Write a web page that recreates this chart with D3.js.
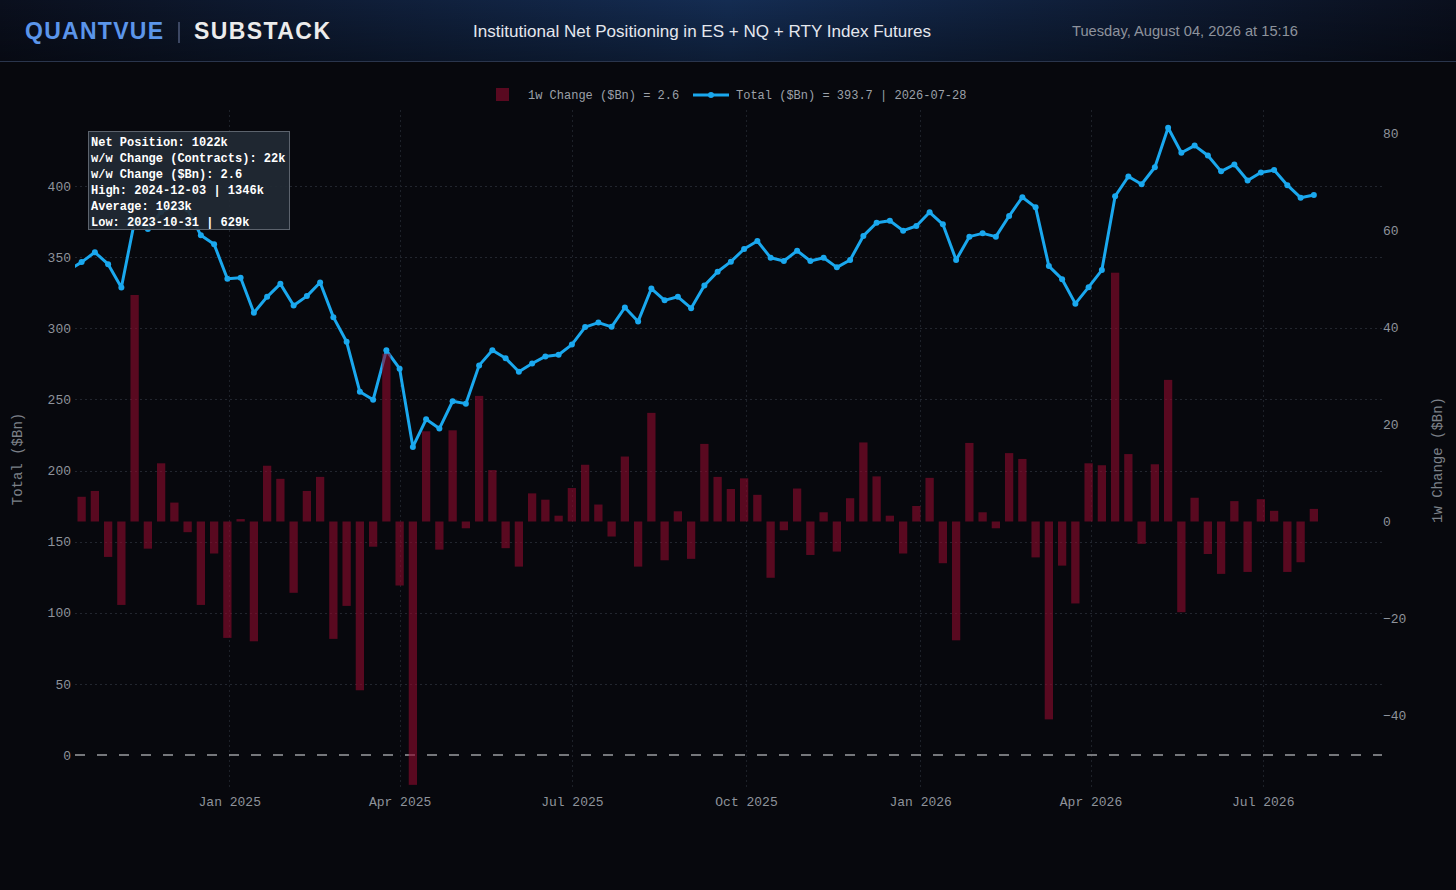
<!DOCTYPE html>
<html><head><meta charset="utf-8">
<script src="https://cdn.jsdelivr.net/npm/d3@7/dist/d3.min.js"></script>
<style>
html,body{margin:0;padding:0;background:#07080d;}
svg{display:block;}
</style></head><body>
<svg id="c" width="1456" height="890"></svg>
<script>
// ---------- DATA ----------
const dates = [
"2024-10-08","2024-10-15","2024-10-22","2024-10-29","2024-11-05","2024-11-12","2024-11-19","2024-11-26","2024-12-03","2024-12-10","2024-12-17","2024-12-24","2024-12-31",
"2025-01-07","2025-01-14","2025-01-21","2025-01-28","2025-02-04","2025-02-11","2025-02-18","2025-02-25","2025-03-04","2025-03-11","2025-03-18","2025-03-25",
"2025-04-01","2025-04-08","2025-04-15","2025-04-22","2025-04-29","2025-05-06","2025-05-13","2025-05-20","2025-05-27","2025-06-03","2025-06-10","2025-06-17","2025-06-24",
"2025-07-01","2025-07-08","2025-07-15","2025-07-22","2025-07-29","2025-08-05","2025-08-12","2025-08-19","2025-08-26","2025-09-02","2025-09-09","2025-09-16","2025-09-23","2025-09-30",
"2025-10-07","2025-10-14","2025-10-21","2025-10-28","2025-11-04","2025-11-11","2025-11-18","2025-11-25","2025-12-02","2025-12-09","2025-12-16","2025-12-23","2025-12-30",
"2026-01-06","2026-01-13","2026-01-20","2026-01-27","2026-02-03","2026-02-10","2026-02-17","2026-02-24","2026-03-03","2026-03-10","2026-03-17","2026-03-24","2026-03-31",
"2026-04-07","2026-04-14","2026-04-21","2026-04-28","2026-05-05","2026-05-12","2026-05-19","2026-05-26","2026-06-02","2026-06-09","2026-06-16","2026-06-23","2026-06-30",
"2026-07-07","2026-07-14","2026-07-21","2026-07-28"
];
const totalBn = [
340.7,346.5,353.4,345.0,328.7,375.4,369.8,381.8,385.7,383.5,365.3,359.0,334.8,
335.5,310.9,322.1,331.2,316.0,322.6,332.2,307.8,290.5,255.3,249.7,284.5,
271.6,216.6,236.0,229.5,248.7,247.0,273.9,284.5,278.9,269.4,275.2,280.2,281.4,
288.5,300.8,304.0,301.0,314.6,304.8,327.9,319.6,322.1,314.1,330.0,339.7,346.8,355.7,
361.3,349.6,347.3,354.5,347.3,349.6,342.8,348.0,364.9,374.2,375.6,368.6,371.9,
381.5,373.1,348.0,364.4,366.7,364.4,378.9,392.1,385.0,343.7,334.5,317.3,328.9,
340.9,392.8,406.7,401.2,413.2,440.9,423.4,428.4,421.4,410.3,415.1,403.9,409.5,
411.2,400.6,391.8,393.7
];
const changeBn = [
null,5.1,6.3,-7.3,-17.2,46.7,-5.6,12.0,3.9,-2.2,-17.2,-6.6,-24.0,
0.5,-24.7,11.5,8.8,-14.7,6.3,9.2,-24.2,-17.4,-34.8,-5.2,34.6,
-13.2,-54.3,18.6,-5.8,18.8,-1.4,25.9,10.6,-5.5,-9.3,5.8,4.5,1.2,
6.9,11.7,3.5,-3.1,13.4,-9.3,22.4,-8.0,2.1,-7.7,16.0,9.2,6.7,8.9,
5.5,-11.6,-1.8,6.8,-6.9,1.9,-6.2,4.8,16.3,9.3,1.2,-6.6,3.2,
9.0,-8.6,-24.5,16.2,1.9,-1.4,14.1,12.9,-7.4,-40.8,-9.1,-16.9,12.0,
11.6,51.3,13.9,-4.6,11.8,29.2,-18.7,4.9,-6.7,-10.8,4.2,-10.4,4.6,
2.2,-10.4,-8.4,2.6
];
const leftTicks = [0,50,100,150,200,250,300,350,400];
const rightTicks = [-40,-20,0,20,40,60,80];
const monthTicks = ["2025-01-01","2025-04-01","2025-07-01","2025-10-01","2026-01-01","2026-04-01","2026-07-01"];
const xDomain = ["2024-10-11T12:00","2026-09-02T00:00"];
const tooltipLines = [
"Net Position: 1022k",
"w/w Change (Contracts): 22k",
"w/w Change ($Bn): 2.6",
"High: 2024-12-03 | 1346k",
"Average: 1023k",
"Low: 2023-10-31 | 629k"
];
const headerTitle = "Institutional Net Positioning in ES + NQ + RTY Index Futures";
const headerDate = "Tuesday, August 04, 2026 at 15:16";
const legendBar = "1w Change ($Bn) = 2.6";
const legendLine = "Total ($Bn) = 393.7 | 2026-07-28";

// ---------- LAYOUT ----------
const P = {left:75, right:1382, top:110, bottom:790};
const BLUE = "#1aa8ee";
const BAR = "rgba(140,10,45,0.62)";
const MONO = "'Liberation Mono','Courier New',monospace";
const SANS = "'Liberation Sans',Arial,Helvetica,sans-serif";
const TICK = "#8e939b";

const parse = d3.timeParse("%Y-%m-%d");
const parseT = d3.timeParse("%Y-%m-%dT%H:%M");
const data = dates.map((d,i)=>({date:parse(d), total:totalBn[i], chg:changeBn[i]}));

const svg = d3.select("#c");
const defs = svg.append("defs");

// background
svg.append("rect").attr("width",1456).attr("height",890).attr("fill","#07080d");

// header
const hg = defs.append("linearGradient").attr("id","hg").attr("x1","0").attr("x2","1").attr("y1","0").attr("y2","0");
hg.append("stop").attr("offset","0%").attr("stop-color","#0a0f1d");
hg.append("stop").attr("offset","50%").attr("stop-color","#142c52");
hg.append("stop").attr("offset","100%").attr("stop-color","#0a0f1d");
const hv = defs.append("linearGradient").attr("id","hv").attr("x1","0").attr("x2","0").attr("y1","0").attr("y2","1");
hv.append("stop").attr("offset","0%").attr("stop-color","#000").attr("stop-opacity",0);
hv.append("stop").attr("offset","100%").attr("stop-color","#000").attr("stop-opacity",0.35);
svg.append("rect").attr("width",1456).attr("height",61).attr("fill","url(#hg)");
svg.append("rect").attr("width",1456).attr("height",61).attr("fill","url(#hv)");
svg.append("line").attr("x1",0).attr("x2",1456).attr("y1",61.5).attr("y2",61.5).attr("stroke","#2a354c").attr("stroke-width",1);

svg.append("text").attr("x",25).attr("y",39).text("QUANTVUE")
  .attr("font-family",SANS).attr("font-weight","bold").attr("font-size",23)
  .attr("fill","#5b95ea").attr("textLength",138).attr("lengthAdjust","spacing");
svg.append("line").attr("x1",179).attr("x2",179).attr("y1",22).attr("y2",43).attr("stroke","#3c4763").attr("stroke-width",2);
svg.append("text").attr("x",194).attr("y",39).text("SUBSTACK")
  .attr("font-family",SANS).attr("font-weight","bold").attr("font-size",23)
  .attr("fill","#ececec").attr("textLength",136).attr("lengthAdjust","spacing");
svg.append("text").attr("x",473).attr("y",37).text(headerTitle)
  .attr("font-family",SANS).attr("font-size",16.5).attr("fill","#e4e7ee")
  .attr("textLength",458).attr("lengthAdjust","spacingAndGlyphs");
svg.append("text").attr("x",1072).attr("y",36).text(headerDate)
  .attr("font-family",SANS).attr("font-size",14.5).attr("fill","#8e939d")
  .attr("textLength",226).attr("lengthAdjust","spacingAndGlyphs");

// scales
const x = d3.scaleTime().domain(xDomain.map(parseT)).range([P.left,P.right]);
const yL = d3.scaleLinear().domain([(755-P.bottom)/1.4225,(755-P.top)/1.4225]).range([P.bottom,P.top]);
const yR = d3.scaleLinear().domain([(521.5-P.bottom)/4.85,(521.5-P.top)/4.85]).range([P.bottom,P.top]);

// grid
const grid = svg.append("g");
grid.selectAll("line.h").data(leftTicks.filter(t=>t!==0)).join("line")
  .attr("x1",P.left).attr("x2",P.right).attr("y1",d=>Math.round(yL(d))+0.5).attr("y2",d=>Math.round(yL(d))+0.5)
  .attr("stroke","#22262f").attr("stroke-width",1).attr("stroke-dasharray","2,3");
grid.selectAll("line.v").data(monthTicks.map(parse)).join("line")
  .attr("x1",d=>Math.round(x(d))+0.5).attr("x2",d=>Math.round(x(d))+0.5).attr("y1",P.top).attr("y2",P.bottom)
  .attr("stroke","#1d2129").attr("stroke-width",1).attr("stroke-dasharray","2,3");

// zero dashed line
svg.append("line").attr("x1",P.left).attr("x2",P.right).attr("y1",yL(0)).attr("y2",yL(0))
  .attr("stroke","#9a9ca0").attr("stroke-width",1.6).attr("stroke-dasharray","10,12");

// clip
defs.append("clipPath").attr("id","plot").append("rect")
  .attr("x",P.left).attr("y",P.top-20).attr("width",P.right-P.left).attr("height",P.bottom-P.top+20);
const plot = svg.append("g").attr("clip-path","url(#plot)");

// line
const line = d3.line().x(d=>x(d.date)).y(d=>yL(d.total));
plot.append("path").datum(data).attr("d",line).attr("fill","none")
  .attr("stroke",BLUE).attr("stroke-width",3).attr("stroke-linejoin","round");
plot.selectAll("circle.pt").data(data).join("circle")
  .attr("cx",d=>x(d.date)).attr("cy",d=>yL(d.total)).attr("r",3).attr("fill",BLUE);

// bars (drawn on top, semi-transparent)
const bw = 8.3;
plot.selectAll("rect.bar").data(data.filter(d=>d.chg!==null)).join("rect")
  .attr("x",d=>x(d.date)-bw/2).attr("width",bw)
  .attr("y",d=>Math.min(yR(0),yR(d.chg))).attr("height",d=>Math.abs(yR(d.chg)-yR(0)))
  .attr("fill",BAR);

// axes
function styleAxis(g){
  g.select(".domain").remove();
  g.selectAll(".tick line").remove();
  g.selectAll("text").attr("font-family",MONO).attr("font-size",13).attr("fill",TICK);
}
svg.append("g").attr("transform",`translate(${P.left-1},0)`)
  .call(d3.axisLeft(yL).tickValues(leftTicks).tickSize(0).tickPadding(3).tickFormat(d3.format("d")))
  .call(styleAxis);
svg.append("g").attr("transform",`translate(${P.right},0)`)
  .call(d3.axisRight(yR).tickValues(rightTicks).tickSize(0).tickPadding(1).tickFormat(d=>d<0?"\u2212"+Math.abs(d):String(d)))
  .call(styleAxis);
svg.append("g").attr("transform",`translate(0,${P.bottom})`)
  .call(d3.axisBottom(x).tickValues(monthTicks.map(parse)).tickSize(0).tickPadding(7).tickFormat(d3.timeFormat("%b %Y")))
  .call(styleAxis);

// axis titles
svg.append("text").attr("transform","translate(22,459) rotate(-90)").attr("text-anchor","middle")
  .text("Total ($Bn)").attr("font-family",MONO).attr("font-size",14).attr("fill","#7c8189");
svg.append("text").attr("transform","translate(1442,460) rotate(-90)").attr("text-anchor","middle")
  .text("1w Change ($Bn)").attr("font-family",MONO).attr("font-size",14).attr("fill","#7c8189");

// legend
const lg = svg.append("g");
lg.append("rect").attr("x",496).attr("y",88).attr("width",13).attr("height",13).attr("fill",BAR);
lg.append("text").attr("x",528).attr("y",99).text(legendBar)
  .attr("font-family",MONO).attr("font-size",12).attr("fill","#9ca1a9").attr("xml:space","preserve");
lg.append("line").attr("x1",693).attr("x2",729).attr("y1",95).attr("y2",95).attr("stroke",BLUE).attr("stroke-width",3);
lg.append("circle").attr("cx",711).attr("cy",95).attr("r",3).attr("fill",BLUE);
lg.append("text").attr("x",736).attr("y",99).text(legendLine)
  .attr("font-family",MONO).attr("font-size",12).attr("fill","#9ca1a9");

// info box
const tb = svg.append("g");
tb.append("rect").attr("x",88.5).attr("y",131.5).attr("width",201).attr("height",98)
  .attr("fill","rgba(34,42,52,0.92)").attr("stroke","#5c636d").attr("stroke-width",1);
tb.selectAll("text").data(tooltipLines).join("text")
  .attr("x",91).attr("y",(d,i)=>146+16*i).text(d=>d)
  .attr("font-family",MONO).attr("font-weight","bold").attr("font-size",12).attr("fill","#ffffff")
  .attr("xml:space","preserve");
</script>
</body></html>
